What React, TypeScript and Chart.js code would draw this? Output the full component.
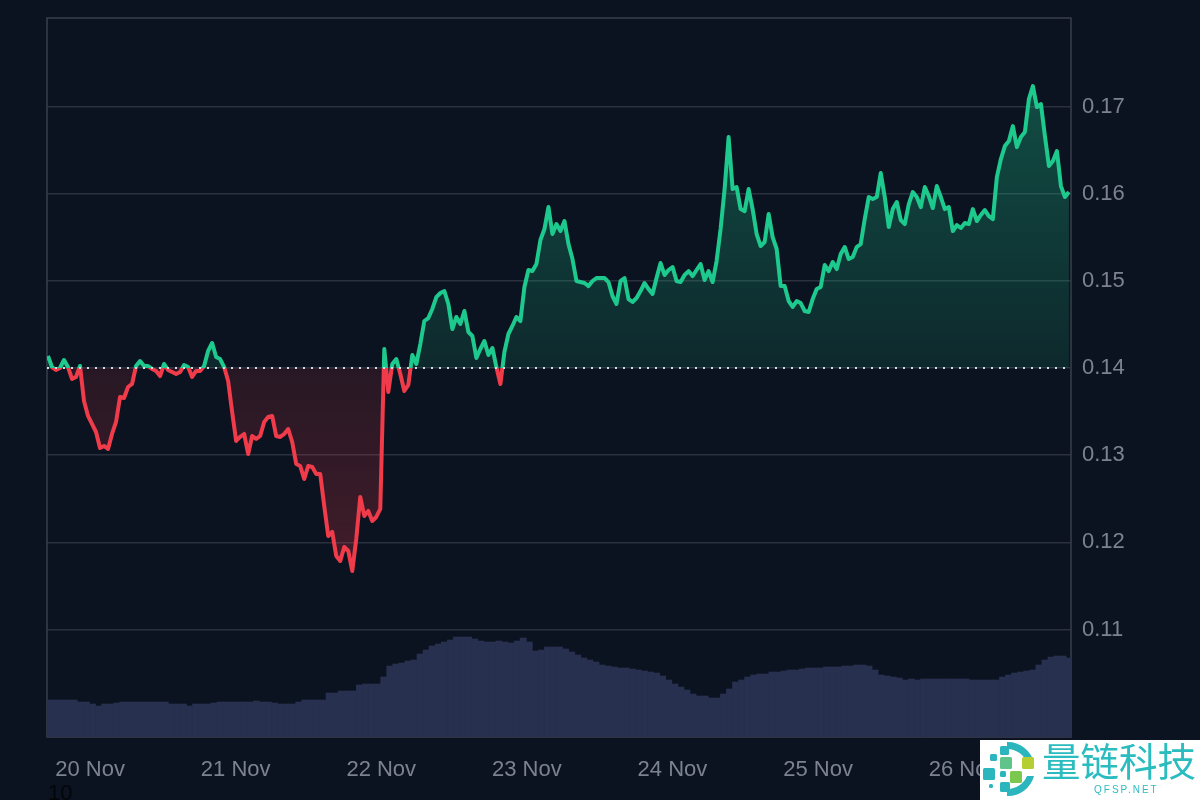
import { useEffect, useRef } from "react"
import { Chart, registerables } from "chart.js"

Chart.register(...registerables)

// one price reading every 0.66 h, starting 0.16 h after the left edge
const prices = [
  0.14138, 0.14011, 0.13977, 0.14, 0.14092, 0.14011, 0.13874, 0.13897, 0.14023, 0.13622, 0.1345, 0.13358,
  0.13266, 0.13083, 0.13106, 0.13071, 0.13243, 0.13381, 0.13667, 0.13656, 0.13782, 0.13817, 0.14023, 0.1408,
  0.14023, 0.14023, 0.13989, 0.13966, 0.13908, 0.14046, 0.13977, 0.13954, 0.13931, 0.13954, 0.14034, 0.14011,
  0.13897, 0.13966, 0.13966, 0.14023, 0.14195, 0.14287, 0.14126, 0.14103, 0.14011, 0.13851, 0.13495, 0.13163,
  0.13209, 0.13243, 0.13014, 0.1322, 0.13186, 0.1322, 0.13381, 0.13438, 0.1345, 0.1322, 0.13209, 0.13243,
  0.133, 0.13151, 0.12899, 0.12876, 0.12727, 0.12876, 0.12865, 0.12784, 0.12784, 0.12417, 0.12073, 0.12119,
  0.11844, 0.11787, 0.11947, 0.11901, 0.11672, 0.12039, 0.12521, 0.12303, 0.1236, 0.12245, 0.12291, 0.12383,
  0.14218, 0.13725, 0.14046, 0.14103, 0.13931, 0.13736, 0.13805, 0.14149, 0.14046, 0.14275, 0.14539, 0.14573,
  0.14677, 0.14814, 0.1486, 0.14883, 0.14734, 0.14447, 0.14585, 0.14505, 0.14654, 0.14413, 0.14367, 0.14115,
  0.14218, 0.1431, 0.14149, 0.14229, 0.14011, 0.13817, 0.14183, 0.1439, 0.14482, 0.14585, 0.14539, 0.14929,
  0.15124, 0.15112, 0.15193, 0.15468, 0.15594, 0.15846, 0.15537, 0.15651, 0.15571, 0.15686, 0.15422, 0.1525,
  0.14998, 0.14986, 0.14975, 0.1494, 0.14998, 0.15032, 0.15032, 0.15032, 0.14986, 0.14826, 0.14734, 0.14998,
  0.15032, 0.14791, 0.14757, 0.14803, 0.14883, 0.14975, 0.14906, 0.14849, 0.15032, 0.15204, 0.15067, 0.15124,
  0.15158, 0.14998, 0.14986, 0.15067, 0.15112, 0.15055, 0.15124, 0.15193, 0.15009, 0.15112, 0.14986, 0.15227,
  0.15594, 0.16053, 0.16649, 0.16053, 0.16076, 0.15823, 0.158, 0.16053, 0.15823, 0.15537, 0.15399, 0.15445,
  0.15766, 0.15502, 0.15365, 0.1494, 0.1494, 0.14768, 0.147, 0.14768, 0.14745, 0.14654, 0.14642, 0.14791,
  0.14906, 0.14929, 0.15181, 0.15112, 0.15216, 0.15135, 0.15307, 0.15388, 0.1525, 0.15273, 0.15388, 0.15422,
  0.15709, 0.15961, 0.15938, 0.15961, 0.16236, 0.15961, 0.15617, 0.15823, 0.15904, 0.15697, 0.15651, 0.15881,
  0.16018, 0.15961, 0.15846, 0.16076, 0.15972, 0.15835, 0.16087, 0.15961, 0.15823, 0.15846, 0.15571, 0.1564,
  0.15606, 0.15663, 0.15651, 0.15823, 0.15686, 0.15755, 0.15812, 0.15743, 0.15709, 0.1619, 0.16397, 0.16546,
  0.16603, 0.16775, 0.16534, 0.16649, 0.16706, 0.17085, 0.17234, 0.16993, 0.17028, 0.16661, 0.16317, 0.16374,
  0.16489, 0.16087, 0.15961, 0.16018,
]

// hourly volume
const volumes = [
  74, 74, 74, 74, 74, 70, 70, 66, 62, 66, 66, 68, 70, 70, 70, 70, 70, 70, 70, 70,
  66, 66, 66, 62, 66, 66, 66, 68, 70, 70, 70, 70, 70, 70, 72, 70, 70, 68, 66, 66,
  66, 70, 74, 74, 74, 74, 88, 88, 92, 92, 92, 104, 106, 106, 106, 120, 142, 146, 148, 152,
  154, 166, 174, 182, 186, 190, 194, 200, 200, 200, 196, 192, 190, 190, 192, 190, 188, 192, 198, 190,
  172, 174, 180, 180, 180, 176, 170, 164, 158, 154, 150, 144, 142, 140, 138, 138, 136, 134, 132, 130,
  128, 122, 114, 106, 100, 94, 86, 82, 82, 78, 78, 86, 96, 110, 114, 120, 124, 126, 126, 130,
  130, 132, 134, 134, 136, 138, 138, 138, 140, 140, 140, 142, 142, 144, 144, 142, 134, 124, 122, 120,
  118, 114, 116, 114, 116, 116, 116, 116, 116, 116, 116, 116, 114, 114, 114, 114, 114, 120, 124, 128,
  130, 132, 134, 144, 154, 160, 162, 162, 158,
]

const dayLabels = ["20 Nov", "21 Nov", "22 Nov", "23 Nov", "24 Nov", "25 Nov", "26 Nov"]
const priceTicks = [0.11, 0.12, 0.13, 0.14, 0.15, 0.16, 0.17]
const basePrice = 0.14

const totalHours = 168.8
const firstDayHour = 7.1
const priceStep = 0.66
const priceStart = 0.16

const green = "#1ec98e"
const red = "#ef3b4a"
const tickColor = "#7d8292"
const gridColor = "#2a303c"
const frameColor = "#393f4b"
const background = "#0c1320"
const teal = "#2bbcc0"

// left, top, right and bottom edges of the plot
const framePlugin = {
  id: "frame",
  beforeDatasetsDraw(chart: Chart) {
    const { ctx, chartArea } = chart
    ctx.save()
    ctx.strokeStyle = frameColor
    ctx.lineWidth = 1.5
    ctx.strokeRect(chartArea.left, chartArea.top, chartArea.right - chartArea.left, chartArea.bottom - chartArea.top)
    ctx.restore()
  },
}

function Logo() {
  const squares = [
    ["#2bb5bd", 1000, 746, 9],
    ["#2bb5bd", 990, 754, 7],
    ["#5fc48a", 1000, 757, 12],
    ["#2bb5bd", 983, 768, 12],
    ["#2bb5bd", 1000, 771, 6],
    ["#7cc84e", 1010, 771, 12],
    ["#b5cf32", 1022, 757, 12],
    ["#2bb5bd", 1000, 782, 10],
    ["#2bb5bd", 989, 784, 4],
  ] as const
  return (
    <svg width={60} height={60} viewBox="980 740 60 60" style={{ position: "absolute", left: 0, top: 0 }}>
      <path d="M1007 742 A27 27 0 0 1 1034 763 L1027 763 A21 21 0 0 0 1007 749 Z" fill="#2bb5bd" />
      <path d="M1034 776 A27 27 0 0 1 1007 796 L1007 789 A21 21 0 0 0 1027 776 Z" fill="#2bb5bd" />
      {squares.map(([color, x, y, size], i) => (
        <rect key={i} x={x} y={y} width={size} height={size} rx={1.5} fill={color} />
      ))}
    </svg>
  )
}

export default function App() {
  const canvasRef = useRef<HTMLCanvasElement>(null)

  useEffect(() => {
    if (!canvasRef.current) return

    const chart = new Chart(canvasRef.current, {
      type: "line",
      data: {
        datasets: [
          {
            type: "line",
            data: [
              { x: 0, y: basePrice },
              { x: totalHours, y: basePrice },
            ],
            borderColor: "#d8dbe0",
            borderWidth: 2,
            borderDash: [2, 6],
            pointRadius: 0,
            yAxisID: "y",
            order: 0,
          },
          {
            type: "line",
            data: prices.map((p, i) => ({ x: priceStart + i * priceStep, y: p })),
            borderColor: green,
            borderWidth: 4,
            borderJoinStyle: "round",
            pointRadius: 0,
            tension: 0,
            yAxisID: "y",
            order: 1,
          },
          {
            type: "bar",
            data: volumes.map((v, i) => ({ x: i + 0.5, y: v })),
            backgroundColor: "#28304f",
            barPercentage: 1,
            categoryPercentage: 1,
            yAxisID: "volume",
            order: 2,
          },
        ],
      },
      options: {
        responsive: false,
        animation: false,
        layout: { padding: { left: 47, top: 18 } },
        plugins: { legend: { display: false }, tooltip: { enabled: false } },
        scales: {
          x: {
            type: "linear",
            offset: false,
            min: 0,
            max: totalHours,
            grid: { display: false, offset: false },
            border: { display: false },
            afterBuildTicks: (axis) => {
              axis.ticks = dayLabels.map((_, i) => ({ value: firstDayHour + i * 24 }))
            },
            afterFit: (axis: any) => {
              axis.height = 63
              axis.paddingLeft = 0
              axis.paddingRight = 0
            },
            ticks: {
              autoSkip: false,
              maxRotation: 0,
              padding: 12,
              color: tickColor,
              font: { family: "Liberation Sans", size: 22 },
              callback: (_value, index) => dayLabels[index],
            },
          },
          y: {
            position: "right",
            min: 0.09767,
            max: 0.18015,
            grid: { color: gridColor, lineWidth: 1.5, drawTicks: false },
            border: { display: false },
            afterBuildTicks: (axis) => {
              axis.ticks = priceTicks.map((value) => ({ value }))
            },
            afterFit: (axis: any) => {
              axis.width = 129
              axis.paddingTop = 0
              axis.paddingBottom = 0
            },
            ticks: {
              padding: 11,
              color: tickColor,
              font: { family: "Liberation Sans", size: 22 },
              callback: (value) => Number(value).toFixed(2),
            },
          },
          volume: {
            display: false,
            position: "right",
            min: 0,
            max: 1438,
          },
        },
      },
      plugins: [framePlugin],
    })

    // gradients need the final scale, so they are set after the first layout
    const { ctx, scales } = chart
    const baseY = scales.y.getPixelForValue(basePrice)
    const topY = scales.y.getPixelForValue(0.1725)
    const bottomY = scales.y.getPixelForValue(0.1165)
    const stop = (baseY - topY) / (bottomY - topY)

    const stroke = ctx.createLinearGradient(0, topY, 0, bottomY)
    stroke.addColorStop(0, green)
    stroke.addColorStop(stop, green)
    stroke.addColorStop(stop, red)
    stroke.addColorStop(1, red)

    const above = ctx.createLinearGradient(0, topY, 0, baseY)
    above.addColorStop(0, "rgba(30, 201, 142, 0.32)")
    above.addColorStop(1, "rgba(30, 201, 142, 0.12)")

    const below = ctx.createLinearGradient(0, baseY, 0, bottomY)
    below.addColorStop(0, "rgba(239, 59, 74, 0.12)")
    below.addColorStop(1, "rgba(239, 59, 74, 0.24)")

    const line = chart.data.datasets[1] as any
    line.borderColor = stroke
    line.fill = { target: { value: basePrice }, above, below }
    chart.update()

    return () => {
      chart.destroy()
    }
  }, [])

  return (
    <div style={{ position: "fixed", inset: 0, background, overflow: "hidden", fontFamily: "Liberation Sans" }}>
      <canvas ref={canvasRef} width={1200} height={800} style={{ position: "absolute", left: 0, top: 0 }} />
      <div style={{ position: "absolute", left: 48, top: 780, fontSize: 22, lineHeight: "25px", color: "#03050a" }}>10</div>
      <div style={{ position: "absolute", left: 980, top: 740, width: 220, height: 60, background: "#ffffff" }}>
        <Logo />
        <div
          style={{
            position: "absolute",
            left: 62,
            top: -6,
            fontFamily: "Noto Sans CJK SC",
            fontSize: 38.5,
            lineHeight: "50px",
            whiteSpace: "nowrap",
            color: teal,
          }}
        >
          量链科技
        </div>
        <div
          style={{
            position: "absolute",
            left: 114,
            top: 43,
            fontSize: 10,
            lineHeight: "14px",
            letterSpacing: 2,
            whiteSpace: "nowrap",
            color: teal,
          }}
        >
          QFSP.NET
        </div>
      </div>
    </div>
  )
}
